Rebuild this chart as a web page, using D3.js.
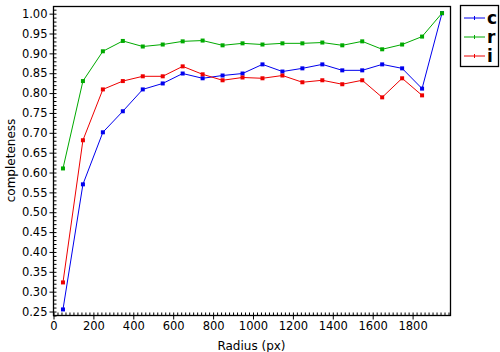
<!DOCTYPE html>
<html>
<head>
<meta charset="utf-8">
<script src="https://cdn.jsdelivr.net/npm/d3@7"></script>
<style>
  body { margin: 0; background: #fff; }
  svg { display: block; font-family: "DejaVu Sans", sans-serif; }
</style>
</head>
<body>
<div id="chart"></div>
<script>
// radius bins (px)
const radius = [50, 150, 250, 350, 450, 550, 650, 750, 850, 950, 1050, 1150, 1250, 1350, 1450, 1550, 1650, 1750, 1850, 1950];

// completeness per band
const cVals = [0.254, 0.569, 0.700, 0.753, 0.808, 0.823, 0.848, 0.836, 0.843, 0.848, 0.871, 0.853, 0.861, 0.871, 0.856, 0.856, 0.871, 0.861, 0.810, 1.0];
const rVals = [0.609, 0.829, 0.904, 0.930, 0.916, 0.921, 0.929, 0.931, 0.919, 0.924, 0.921, 0.924, 0.924, 0.926, 0.919, 0.929, 0.909, 0.921, 0.941, 1.0];
const iVals = [0.322, 0.680, 0.808, 0.829, 0.841, 0.841, 0.866, 0.846, 0.831, 0.838, 0.836, 0.843, 0.826, 0.831, 0.821, 0.831, 0.788, 0.836, 0.793];

const seriesNames = ["c", "r", "i"];
const xTicks = [0, 200, 400, 600, 800, 1000, 1200, 1400, 1600, 1800];
const yTicks = [0.25, 0.30, 0.35, 0.40, 0.45, 0.50, 0.55, 0.60, 0.65, 0.70, 0.75, 0.80, 0.85, 0.90, 0.95, 1.00];

const color = d3.scaleOrdinal().domain(seriesNames).range(["#0000ee", "#00aa00", "#ee0000"]);

const W = 500, H = 352;
const plot = { left: 53, right: 450, top: 6, bottom: 315 };

const svg = d3.select("#chart").append("svg").attr("width", W).attr("height", H);

const x = d3.scaleLinear().domain([0, 1990]).range([plot.left, plot.right]);
const y = d3.scaleLinear().domain([0.24, 1.018]).range([plot.bottom, plot.top]);

//frame
svg.append("rect")
  .attr("x", plot.left + 0.5).attr("y", plot.top + 0.5)
  .attr("width", plot.right - plot.left).attr("height", plot.bottom - plot.top)
  .attr("fill", "none").attr("stroke", "#000").attr("stroke-width", 1.3);

//minor ticks point inward, major ones outward
const xMinor = d3.range(0, 1991, 20);
const yMinor = d3.range(24, 102).map(d => d / 100);

svg.append("g")
  .attr("transform", `translate(0.5,${plot.bottom + 0.5})`)
  .call(d3.axisTop(x).tickValues(xMinor).tickSize(3).tickFormat(""))
  .call(g => g.select(".domain").remove());

svg.append("g")
  .attr("transform", `translate(${plot.left + 0.5},0.5)`)
  .call(d3.axisRight(y).tickValues(yMinor).tickSize(3).tickFormat(""))
  .call(g => g.select(".domain").remove());

svg.append("g")
  .attr("transform", `translate(0.5,${plot.bottom + 0.5})`)
  .call(d3.axisBottom(x).tickValues(xTicks).tickSize(4).tickPadding(2).tickFormat(d3.format("d")))
  .call(g => g.select(".domain").remove())
  .call(g => g.selectAll("text").attr("font-size", 11.5).attr("fill", "#000").attr("font-family", "DejaVu Sans"));

svg.append("g")
  .attr("transform", `translate(${plot.left + 0.5},0.5)`)
  .call(d3.axisLeft(y).tickValues(yTicks).tickSize(4).tickPadding(2).tickFormat(d3.format(".2f")))
  .call(g => g.select(".domain").remove())
  .call(g => g.selectAll("text").attr("font-size", 11.5).attr("fill", "#000").attr("font-family", "DejaVu Sans"));

//axis titles
svg.append("text")
  .attr("x", (plot.left + plot.right) / 2).attr("y", 350)
  .attr("text-anchor", "middle").attr("font-size", 12)
  .text("Radius (px)");

svg.append("text")
  .attr("transform", `translate(15,${(plot.top + plot.bottom) / 2}) rotate(-90)`)
  .attr("text-anchor", "middle").attr("font-size", 12)
  .text("completeness");

//series
const series = [
  { name: "c", values: cVals },
  { name: "r", values: rVals },
  { name: "i", values: iVals }
];

const line = d3.line().x((d, i) => x(radius[i])).y(d => y(d));

series.forEach(s => {
  svg.append("path")
    .datum(s.values)
    .attr("d", line)
    .attr("fill", "none")
    .attr("stroke", color(s.name))
    .attr("stroke-width", 1);

  svg.append("g")
    .selectAll("rect")
    .data(s.values)
    .enter()
    .append("rect")
    .attr("x", (d, i) => x(radius[i]) - 2)
    .attr("y", d => y(d) - 2)
    .attr("width", 4)
    .attr("height", 4)
    .attr("fill", color(s.name));
});

//legend
const leg = svg.append("g");
leg.append("rect")
  .attr("x", 460.5).attr("y", 5.5).attr("width", 38).attr("height", 61)
  .attr("fill", "#fff").attr("stroke", "#000").attr("stroke-width", 1.3);

seriesNames.forEach((name, i) => {
  const ly = 18 + i * 19;
  leg.append("line")
    .attr("x1", 464).attr("x2", 485).attr("y1", ly).attr("y2", ly)
    .attr("stroke", color(name)).attr("stroke-width", 1);
  leg.append("line")
    .attr("x1", 474.5).attr("x2", 474.5).attr("y1", ly - 2).attr("y2", ly + 2)
    .attr("stroke", color(name)).attr("stroke-width", 1);
  leg.append("text")
    .attr("x", 487).attr("y", ly + 6)
    .attr("font-size", 17)
    .attr("font-weight", "bold")
    .text(name);
});
</script>
</body>
</html>
